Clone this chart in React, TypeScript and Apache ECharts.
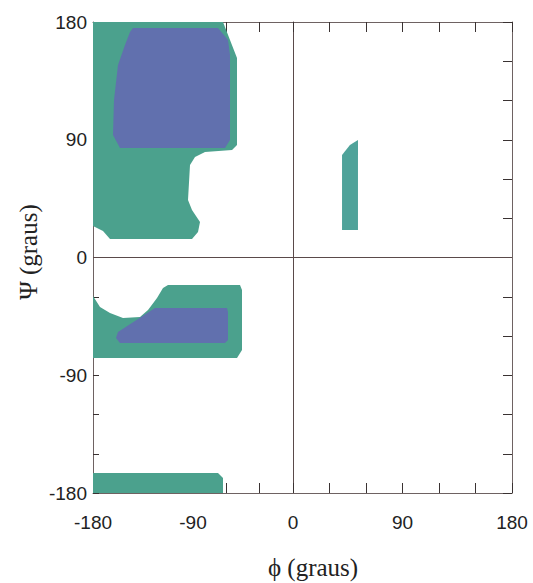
import React, { useEffect, useRef } from "react";
import * as echarts from "echarts";

// Tick labels (degrees)
const phiLeftLabels = [-180, -90, 0];
const phiRightLabels = [90, 180];
const psiLabels = [-180, -90, 0, 90, 180];

// Allowed regions, vertices as [phi, psi] in degrees
const greenTopLeft: number[][] = [
  [-180, 180], [-63, 180], [-56.7, 166.2], [-50.4, 152.5], [-50.4, 86], [-54.9, 82.2],
  [-79.2, 80.6], [-88.2, 76.8], [-92.7, 70.7], [-94.5, 44], [-90.9, 36.3], [-83.7, 27.1],
  [-85.5, 19.5], [-90.9, 14.1], [-164.7, 14.1], [-171, 20.3], [-180, 24.1],
];
const blueTopLeft: number[][] = [
  [-144, 175.4], [-67.5, 175.4], [-58.5, 166.2], [-56.7, 154.8], [-56.7, 89.8], [-61.2, 83.7],
  [-155.7, 83.7], [-162, 93.6], [-161.1, 120.4], [-157.5, 147.1], [-151.2, 162.4], [-146.7, 172.4],
];
const greenBottomLeft: number[][] = [
  [-180, -29.4], [-173.7, -37.8], [-164.7, -42.4], [-153, -46.2], [-137.7, -45.5], [-130.5, -40.1],
  [-122.4, -30.9], [-117, -23.3], [-112.5, -21], [-47.7, -21], [-45.9, -24.8], [-45.9, -70.7],
  [-50.4, -76.8], [-180, -76.8],
];
const blueBottomLeft: number[][] = [
  [-124.2, -38.6], [-59.4, -38.6], [-58.5, -41.6], [-58.5, -63], [-61.2, -65.3],
  [-155.7, -65.3], [-159.3, -61.5], [-157.5, -56.9],
];
const greenBottomStrip: number[][] = [
  [-180, -164.7], [-67.5, -164.7], [-63, -168.5], [-63, -180], [-180, -180],
];
const greenIsland: number[][] = [
  [40.3, 78.3], [46.8, 86], [53.4, 89.8], [53.4, 21], [40.3, 21],
];

const GREEN = "#4ba18d";
const BLUE = "#6170ae";
const ISLAND = "#4fa39a";

const leftPolys = [
  { points: greenTopLeft, color: GREEN },
  { points: greenBottomLeft, color: GREEN },
  { points: greenBottomStrip, color: GREEN },
  { points: blueTopLeft, color: BLUE },
  { points: blueBottomLeft, color: BLUE },
];
const rightPolys = [{ points: greenIsland, color: ISLAND }];

const FRAME = "#6e6262";
const TICK = "#3a3232";
const labelFont = { fontFamily: "Liberation Sans", fontSize: 19, color: "#222" };

export default function App() {
  const ref = useRef<HTMLDivElement>(null);
  useEffect(() => {
    if (!ref.current) return;
    const chart = echarts.init(ref.current, undefined, { renderer: "svg" });

    const makeRender = (polys: { points: number[][]; color: string }[]) =>
      (params: any, api: any) => {
        const poly = polys[params.dataIndex];
        const pts = poly.points.map((p) => api.coord(p));
        return { type: "polygon", shape: { points: pts }, style: { fill: poly.color } };
      };

    const zeroLine = {
      silent: true,
      symbol: "none",
      label: { show: false },
      lineStyle: { color: "#5a4a4a", width: 1, type: "solid" },
      data: [{ yAxis: 0 }],
    };

    const xBase = (grid: number, min: number, max: number, pos: string, labels: number[] | null, tickLen: number) => ({
      type: "value",
      gridIndex: grid,
      min,
      max,
      interval: 30,
      position: pos,
      axisLine: { show: true, onZero: false, lineStyle: { color: FRAME, width: 1 } },
      axisTick: { show: true, inside: true, length: tickLen, lineStyle: { color: TICK, width: 1 } },
      axisLabel: labels
        ? {
            show: true,
            margin: 20,
            ...labelFont,
            formatter: (v: number) => (labels.includes(v) ? String(v) : ""),
          }
        : { show: false },
      splitLine: { show: false },
    });

    const option: any = {
      animation: false,
      backgroundColor: "#ffffff",
      grid: [
        { left: 93, top: 22, width: 200, height: 471 },
        { left: 293, top: 22, width: 219, height: 471 },
      ],
      xAxis: [
        xBase(0, -180, 0, "bottom", phiLeftLabels, 10),
        xBase(0, -180, 0, "top", null, 10),
        xBase(1, 0, 180, "bottom", phiRightLabels, 10),
        xBase(1, 0, 180, "top", null, 10),
      ],
      yAxis: [
        {
          type: "value",
          gridIndex: 0,
          min: -180,
          max: 180,
          interval: 30,
          position: "left",
          axisLine: { show: true, onZero: false, lineStyle: { color: FRAME, width: 1 } },
          axisTick: { show: true, inside: true, length: 6, lineStyle: { color: TICK, width: 1 } },
          axisLabel: {
            show: true,
            margin: 6,
            ...labelFont,
            formatter: (v: number) => (psiLabels.includes(v) ? String(v) : ""),
          },
          splitLine: { show: false },
        },
        {
          type: "value",
          gridIndex: 1,
          min: -180,
          max: 180,
          interval: 30,
          position: "right",
          axisLine: { show: true, onZero: false, lineStyle: { color: FRAME, width: 1 } },
          axisTick: { show: true, inside: true, length: 9, lineStyle: { color: TICK, width: 1 } },
          axisLabel: { show: false },
          splitLine: { show: false },
        },
        {
          type: "value",
          gridIndex: 1,
          min: -180,
          max: 180,
          interval: 30,
          position: "left",
          axisLine: { show: true, onZero: false, lineStyle: { color: "#5a4a4a", width: 1 } },
          axisTick: { show: false },
          axisLabel: { show: false },
          splitLine: { show: false },
        },
      ],
      series: [
        {
          type: "custom",
          xAxisIndex: 0,
          yAxisIndex: 0,
          renderItem: makeRender(leftPolys),
          data: leftPolys.map((p) => p.points[0]),
          markLine: zeroLine,
          silent: true,
        },
        {
          type: "custom",
          xAxisIndex: 2,
          yAxisIndex: 1,
          renderItem: makeRender(rightPolys),
          data: rightPolys.map((p) => p.points[0]),
          markLine: zeroLine,
          silent: true,
        },
      ],
      graphic: [
        {
          type: "text",
          x: 313,
          y: 567,
          style: {
            text: "ϕ (graus)",
            fontFamily: "Liberation Serif",
            fontSize: 25,
            fill: "#222",
            align: "center",
            verticalAlign: "middle",
          },
        },
        {
          type: "text",
          x: 28,
          y: 252,
          rotation: Math.PI / 2,
          style: {
            text: "Ψ (graus)",
            fontFamily: "Liberation Serif",
            fontSize: 25,
            fill: "#222",
            align: "center",
            verticalAlign: "middle",
          },
        },
      ],
    };

    chart.setOption(option);
    return () => chart.dispose();
  }, []);

  return (
    <div
      ref={ref}
      style={{ position: "absolute", left: 0, top: 0, width: 533, height: 583, background: "#fff" }}
    />
  );
}
